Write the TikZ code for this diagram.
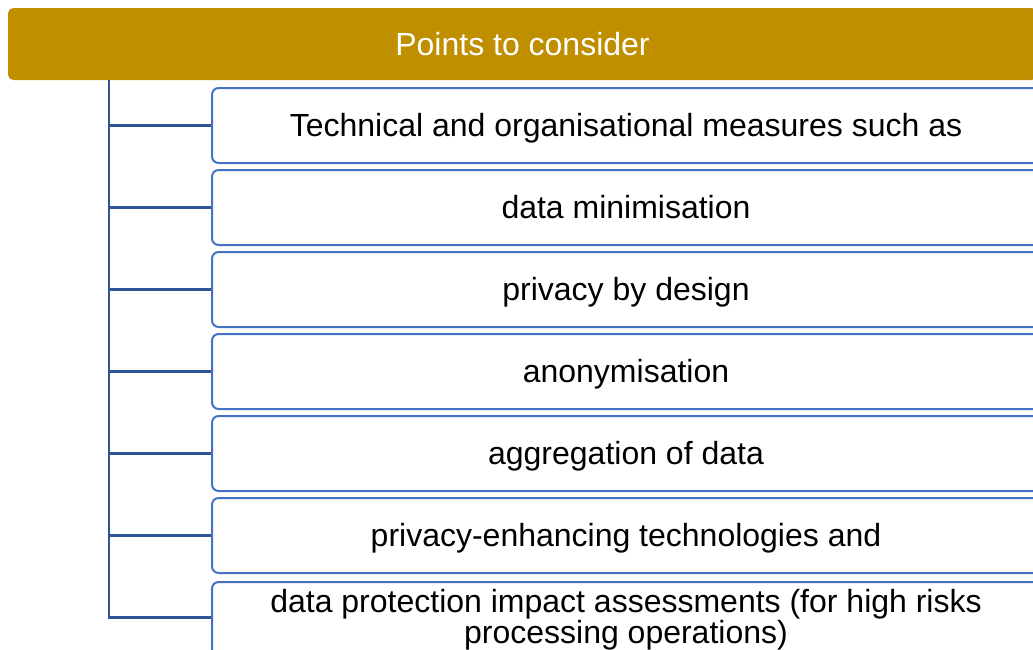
\documentclass[tikz,border=0pt]{standalone}
\usepackage{fontspec}
\setmainfont{Liberation Sans}
\definecolor{gold}{HTML}{BF8F00}
\definecolor{boxblue}{HTML}{4472C4}
\definecolor{trunkblue}{HTML}{2F5597}
\begin{document}
\begin{tikzpicture}[x=0.75pt, y=-0.75pt,
    header/.style={rectangle, rounded corners=4pt, fill=gold, draw=none, text=white,
        minimum width=771.75pt, minimum height=54pt, inner sep=0pt,
        text height=17pt, text depth=0pt,
        font=\fontsize{24}{24}\selectfont},
    itembox/.style={rectangle, rounded corners=5pt, fill=white, draw=boxblue, line width=1.5pt,
        minimum width=621pt, minimum height=56.25pt, inner sep=0pt, align=center,
        text height=17pt, text depth=0pt,
        font=\fontsize{24}{23}\selectfont},
    trunk/.style={draw=trunkblue, line width=1.6pt}
]
    \useasboundingbox (0,0) rectangle (1033,650);
    \clip (0,0) rectangle (1033,650);

    \node[header] at (522.5,44) (head) {Points to consider};

    \node[itembox] at (626,125.5) (i1) {Technical and organisational measures such as};
    \node[itembox] at (626,207.5) (i2) {data minimisation};
    \node[itembox] at (626,289.5) (i3) {privacy by design};
    \node[itembox] at (626,371.5) (i4) {anonymisation};
    \node[itembox] at (626,453.5) (i5) {aggregation of data};
    \node[itembox] at (626,535.5) (i6) {privacy-enhancing technologies and};
    \node[itembox, text height=, text depth=, yshift=-1.5pt] at (626,617.5) (i7)
        {data protection impact assessments (for high risks\\processing operations)};

    % trunk and branches
    \coordinate (top) at (109,80);
    \coordinate (bot) at (109,617.5);
    \draw[trunk] (top) -- (bot) -- (bot -| i7.west);
    \foreach \n in {1,...,6}
        \draw[trunk] (i\n.west -| top) -- (i\n.west);
\end{tikzpicture}
\end{document}
